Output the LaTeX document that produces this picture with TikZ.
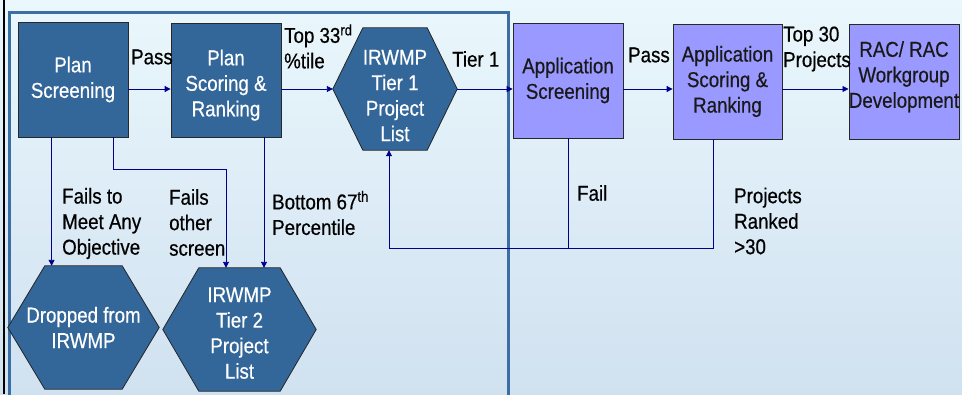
\documentclass[tikz,border=0pt]{standalone}
\usepackage{fontspec}
\setmainfont[FakeStretch=0.87,FakeBold=0.5]{Liberation Sans}
\usetikzlibrary{arrows.meta,calc}
\definecolor{boxblue}{RGB}{51,102,153}
\definecolor{boxpurple}{RGB}{153,153,255}
\definecolor{arrnavy}{RGB}{0,0,140}
\definecolor{framesteel}{RGB}{58,110,165}
\definecolor{bgtop}{RGB}{234,247,252}
\definecolor{bgbot}{RGB}{208,225,240}
\definecolor{edgegray}{RGB}{40,40,40}
\pgfdeclarelayer{bgl}
\pgfdeclarelayer{hexl}
\pgfsetlayers{bgl,hexl,main}
\newcommand\pushdown[1]{\rule{0pt}{#1}}
\newcommand\pushup[1]{\rule[-#1]{0pt}{1pt}}
\begin{document}
\begin{tikzpicture}[x=1pt,y=-1pt,
 font=\fontsize{21.5}{25.5}\selectfont,
 bluebox/.style={draw=edgegray,line width=0.8pt,fill=boxblue,text=white,align=center,inner sep=0pt},
 purplebox/.style={draw=edgegray,line width=0.8pt,fill=boxpurple,text=black!90,align=center,inner sep=0pt},
 hexspot/.style={text=white,align=center,inner sep=0pt},
 hexline/.style={draw=black!85,line width=0.8pt,fill=boxblue},
 conn/.style={draw=arrnavy,line width=0.9pt},
 arr/.style={conn,-{Triangle[length=6pt,width=6pt]}},
 lbl/.style={text=black,align=left,inner sep=0pt,anchor=west}]
\useasboundingbox (0,0) rectangle (962,394);
\begin{pgfonlayer}{bgl}
\shade[top color=bgtop,bottom color=bgbot] (0,0) rectangle (962,394);
\draw[black,line width=2pt] (4,0) -- (4,394);
\draw[framesteel,line width=3pt] (9.5,400) -- (9.5,12) -- (508.5,12) -- (508.5,400);
\end{pgfonlayer}
% nodes
\node[bluebox,minimum width=110,minimum height=115] (ps) at (73,79.5) {Plan\\Screening};
\node[bluebox,minimum width=110,minimum height=114] (psr) at (226,80) {\pushdown{26pt}Plan\\Scoring \&\\Ranking};
\node[hexspot,minimum width=124,minimum height=122] (t1) at (395,89) {\pushdown{28pt}IRWMP\\Tier 1\\Project\\List};
\node[purplebox,minimum width=110,minimum height=115] (as) at (568,80.5) {Application\\Screening};
\node[purplebox,minimum width=109,minimum height=115] (asr) at (727.5,81.5) {Application\\Scoring \&\\Ranking};
\node[purplebox,minimum width=110,minimum height=115] (rac) at (904,81.5) {RAC/ RAC\\Workgroup\\Development\pushup{14pt}};
\node[hexspot,minimum width=151,minimum height=123] (dr) at (83.5,327.5) {Dropped from\\IRWMP};
\node[hexspot,minimum width=153,minimum height=123] (t2) at (239.5,329.5) {\pushdown{22pt}IRWMP\\Tier 2\\Project\\List};
\begin{pgfonlayer}{hexl}
\foreach \n/\d in {t1/30,dr/37,t2/36}
  \draw[hexline] (\n.west) -- ([xshift=\d]\n.north west) -- ([xshift=-\d]\n.north east) -- (\n.east) -- ([xshift=-\d]\n.south east) -- ([xshift=\d]\n.south west) -- cycle;
\end{pgfonlayer}
% labels
\node[lbl] (lpass1) at (131,57) {Pass};
\node[lbl] (ltop33) at (284,46.5) {Top 33\textsuperscript{rd}\\\%tile};
\node[lbl] (ltier1) at (452,59) {Tier 1};
\node[lbl] (lpass2) at (628,55) {Pass};
\node[lbl] (ltop30) at (783,49) {Top 30\\Projects};
\node[lbl] (lfails1) at (62,223.5) {Fails to\\Meet Any\\Objective};
\node[lbl] (lfails2) at (169,222.5) {Fails\\other\\screen};
\node[lbl] (lbottom) at (272,213) {Bottom 67\textsuperscript{th}\\Percentile};
\node[lbl] (lfail) at (577,193) {Fail};
\node[lbl] (lranked) at (734,221) {Projects\\Ranked\\>30};
% connectors
\coordinate (fb) at (389,248);
\draw[arr] (ps.east |- t1.west) -- (psr.west |- t1.west);
\draw[arr] (psr.east |- t1.west) -- (t1.west);
\draw[arr] (t1.east) -- (as.west |- t1.east);
\draw[arr] (as.east |- t1.east) -- (asr.west |- t1.east);
\draw[arr] (asr.east |- t1.east) -- (rac.west |- t1.east);
\draw[arr] ([xshift=34]ps.south west) -- ([xshift=34]ps.south west |- dr.north);
\draw[arr] ([xshift=96]ps.south west) -- ++(0,32) -| ([xshift=-13.5]t2.north);
\draw[arr] ([xshift=38]psr.south) -- ([xshift=38]psr.south |- t2.north);
\draw[conn] (as.south) -- (as.south |- fb);
\draw[arr] ([xshift=-14.5]asr.south) |- (fb) -- (fb |- t1.south);
\end{tikzpicture}
\end{document}
